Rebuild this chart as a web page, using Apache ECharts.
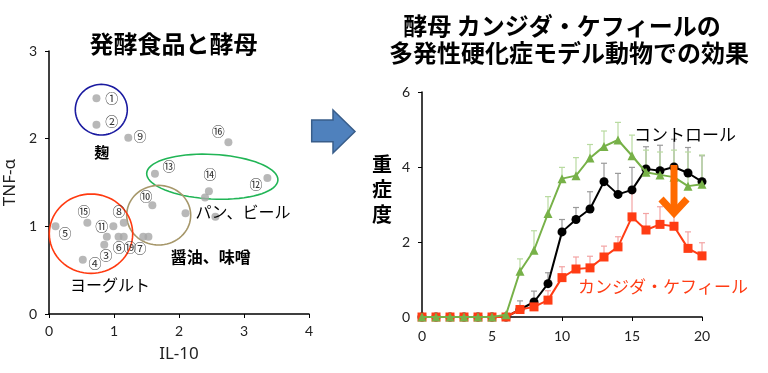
<!DOCTYPE html>
<html><head><meta charset="utf-8">
<script src="https://cdn.jsdelivr.net/npm/echarts@6/dist/echarts.min.js"></script>
<style>html,body{margin:0;padding:0;background:#fff}#c{width:768px;height:373px}</style>
</head><body><div id="c"></div>
<script>
// ---- left scatter: fermented foods (IL-10 vs TNF-α)
const foodIL10 = [0.73,0.73,1.22,2.76,1.63,2.46,2.40,3.36,2.56,2.10,1.59,1.45,1.53,0.10,0.59,0.99,1.15,0.89,1.07,1.15,0.85,0.52];
const foodTNF  = [2.46,2.16,2.01,1.96,1.60,1.40,1.33,1.55,1.11,1.15,1.24,0.88,0.88,1.00,1.04,1.00,1.04,0.88,0.88,0.88,0.79,0.62];
const leftXTicks = [0,1,2,3,4];
const leftYTicks = [0,1,2,3];

// ---- right line chart: severity by day
const days = [0,1,2,3,4,5,6,7,8,9,10,11,12,13,14,15,16,17,18,19,20];
const control = [0,0,0,0,0,0,0,0.2,0.4,0.89,2.27,2.6,2.88,3.61,3.27,3.39,3.95,3.9,4.0,3.84,3.61];
const greenSeries = [0,0,0,0,0,0,0.06,1.22,1.78,2.76,3.69,3.77,4.24,4.55,4.72,4.3,3.86,3.79,3.73,3.49,3.54];
const kefir = [0,0,0,0,0,0,0,0.2,0.27,0.45,1.05,1.28,1.31,1.6,1.87,2.67,2.32,2.47,2.42,1.83,1.63];
const errDays = [7,8,9,10,11,12,13,14,15,16,17,18,19,20];
const controlTop = [0.43,0.69,1.18,2.6,2.92,3.34,4.1,3.83,3.99,4.54,4.58,4.74,4.52,4.3];
const greenTop = [1.55,2.3,3.21,3.99,4.25,4.6,4.96,5.19,4.85,4.45,4.4,4.45,4.4,4.32];
const kefirTop = [0.3,0.36,0.7,1.34,1.6,1.62,1.89,2.14,3.3,2.76,2.94,2.9,2.27,1.98];

const chart = echarts.init(document.getElementById('c'));
const JP = "'Noto Sans CJK JP', sans-serif";
const NUM = "Lato, 'Noto Sans', sans-serif";
const NAME = "'Noto Sans', 'Liberation Sans', sans-serif";

function pairs(xs, ys){ return xs.map((x,i)=>[x, ys[i]]); }
function errBars(base, tops){ return errDays.map((d,i)=>[d, base[d], tops[i]]); }
function errRender(color){
  return function(params, api){
    const x = api.value(0), v = api.value(1), t = api.value(2);
    const p0 = api.coord([x, v]), p1 = api.coord([x, t]);
    return {type:'group', children:[
      {type:'line', shape:{x1:p0[0],y1:p0[1],x2:p1[0],y2:p1[1]}, style:{stroke:color,lineWidth:1.2}},
      {type:'line', shape:{x1:p1[0]-3,y1:p1[1],x2:p1[0]+3,y2:p1[1]}, style:{stroke:color,lineWidth:1.2}}
    ]};
  };
}

const axisCommon = {
  axisLine:{show:true, lineStyle:{color:'#000', width:1.5}},
  axisTick:{show:true, inside:false, length:4, lineStyle:{color:'#000', width:1}},
  splitLine:{show:false},
  axisLabel:{color:'#222', fontFamily:NUM, fontSize:14}
};

const option = {
  animation:false,
  backgroundColor:'#fff',
  grid:[
    {left:49, top:51, width:260, height:263},
    {left:422, top:92, width:280, height:225}
  ],
  xAxis:[
    Object.assign({gridIndex:0, type:'value', min:leftXTicks[0], max:leftXTicks[leftXTicks.length-1], interval:1,
      name:'IL-10', nameLocation:'middle', nameGap:32, nameTextStyle:{fontFamily:NAME, fontSize:17, color:'#222'}}, axisCommon,
      {axisLabel:{color:'#222', fontFamily:NUM, fontSize:14, margin:10}}),
    Object.assign({gridIndex:1, type:'value', min:0, max:20, interval:5}, axisCommon,
      {axisLabel:{color:'#222', fontFamily:NUM, fontSize:14, margin:12}})
  ],
  yAxis:[
    Object.assign({gridIndex:0, type:'value', min:leftYTicks[0], max:leftYTicks[leftYTicks.length-1], interval:1,
      name:'TNF-α', nameLocation:'middle', nameGap:30, nameRotate:90, nameTextStyle:{fontFamily:NAME, fontSize:17, color:'#222'}}, axisCommon,
      {axisLabel:{color:'#222', fontFamily:NUM, fontSize:14, margin:12}}),
    Object.assign({gridIndex:1, type:'value', min:0, max:6, interval:2}, axisCommon,
      {axisLabel:{color:'#222', fontFamily:NUM, fontSize:14, margin:12}})
  ],
  series:[
    {type:'scatter', xAxisIndex:0, yAxisIndex:0, data:pairs(foodIL10, foodTNF), symbolSize:8,
      itemStyle:{color:'#A6A6A6'}, z:3},
    {type:'custom', xAxisIndex:1, yAxisIndex:1, data:errBars(control, controlTop), renderItem:errRender('#9A9A9A'), z:1},
    {type:'custom', xAxisIndex:1, yAxisIndex:1, data:errBars(greenSeries, greenTop), renderItem:errRender('#B9DBA1'), z:1},
    {type:'custom', xAxisIndex:1, yAxisIndex:1, data:errBars(kefir, kefirTop), renderItem:errRender('#F3A3A3'), z:1},
    {type:'line', xAxisIndex:1, yAxisIndex:1, data:pairs(days, control), symbol:'circle', symbolSize:9,
      lineStyle:{color:'#000', width:2}, itemStyle:{color:'#000'}, z:4},
    {type:'line', xAxisIndex:1, yAxisIndex:1, data:pairs(days, kefir), symbol:'rect', symbolSize:9,
      lineStyle:{color:'#FF3C14', width:2}, itemStyle:{color:'#FF3C14'}, z:5},
    {type:'line', xAxisIndex:1, yAxisIndex:1, data:pairs(days, greenSeries), symbol:'triangle', symbolSize:9,
      lineStyle:{color:'#77B148', width:2}, itemStyle:{color:'#77B148'}, z:6}
  ]
};
chart.setOption(option);

// ---- annotations
function ellipse(cx, cy, rx, ry, rotDeg, color){
  const pts = [], r = rotDeg*Math.PI/180;
  for(let i=0;i<72;i++){
    const a = i/72*2*Math.PI, ex = rx*Math.cos(a), ey = ry*Math.sin(a);
    pts.push([cx + ex*Math.cos(r) - ey*Math.sin(r), cy + ex*Math.sin(r) + ey*Math.cos(r)]);
  }
  return {type:'polygon', shape:{points:pts}, style:{fill:null, stroke:color, lineWidth:1.6}, z:2};
}
function txt(x, y, s, size, color, weight, family){
  return {type:'text', x:x, y:y, style:{text:s, fill:color||'#000', fontSize:size, fontWeight:weight||'normal',
    fontFamily:family||JP, textAlign:'center', textVerticalAlign:'middle'}, z:10};
}
const circled = [
  ['①',111.7,98.3],['②',111.7,120.7],['⑨',140,135.7],['⑯',218.3,131],['⑬',169,166],['⑭',210,174],
  ['⑫',256,184.3],['⑩',146,196.3],['⑮',84,210.7],['⑧',119,210.7],['⑪',101.7,225.7],['⑤',65,232.7],
  ['⑥',119,246.7],['⑲',130,246.7],['⑦',140,248.3],['③',106,254.7],['④',95,262.7]
];
const graphics = [
  ellipse(101.3,109.7,26,25.3,0,'#1A1AA0'),
  ellipse(212.3,176.7,65.7,22.3,3,'#21B556'),
  ellipse(158.7,215.2,32,29.8,0,'#A6976A'),
  ellipse(91,233.7,41.7,39.7,0,'#FF3A10'),
  txt(173.5,44,'発酵食品と酵母',24,'#000','bold'),
  txt(562,26,'酵母 カンジダ・ケフィールの',24,'#000','bold'),
  txt(569,53,'多発性硬化症モデル動物での効果',24,'#000','bold'),
  {type:'text', x:382, y:189, style:{text:'重\n症\n度', fill:'#000', fontSize:20, fontWeight:'bold', fontFamily:JP,
    textAlign:'center', textVerticalAlign:'middle', lineHeight:25}, z:10},
  txt(101.7,152.3,'麹',15,'#000','bold'),
  txt(243,211.7,'パン、ビール',16,'#000'),
  txt(210.7,256.7,'醤油、味噌',16,'#000','bold'),
  txt(110,285,'ヨーグルト',16,'#000'),
  txt(685,135,'コントロール',17,'#000'),
  txt(663,286.7,'カンジダ・ケフィール',17,'#FF3C14'),
  {type:'polygon', shape:{points:[[311.7,120],[333,120],[333,110],[355,131.5],[333,153],[333,141.7],[311.7,141.7]]},
    style:{fill:'#4F81BD', stroke:'#385D8A', lineWidth:1.5}, z:10},
  {type:'line', shape:{x1:674,y1:165,x2:674,y2:212}, style:{stroke:'#FF6A00', lineWidth:7}, z:20},
  {type:'polyline', shape:{points:[[661,199],[674,213],[687,199]]}, style:{stroke:'#FF6A00', lineWidth:7, lineJoin:'miter'}, z:20}
];
circled.forEach(c=>graphics.push(txt(c[1],c[2],c[0],13,'#333','normal')));
chart.setOption({graphic:graphics});
</script>
</body></html>
